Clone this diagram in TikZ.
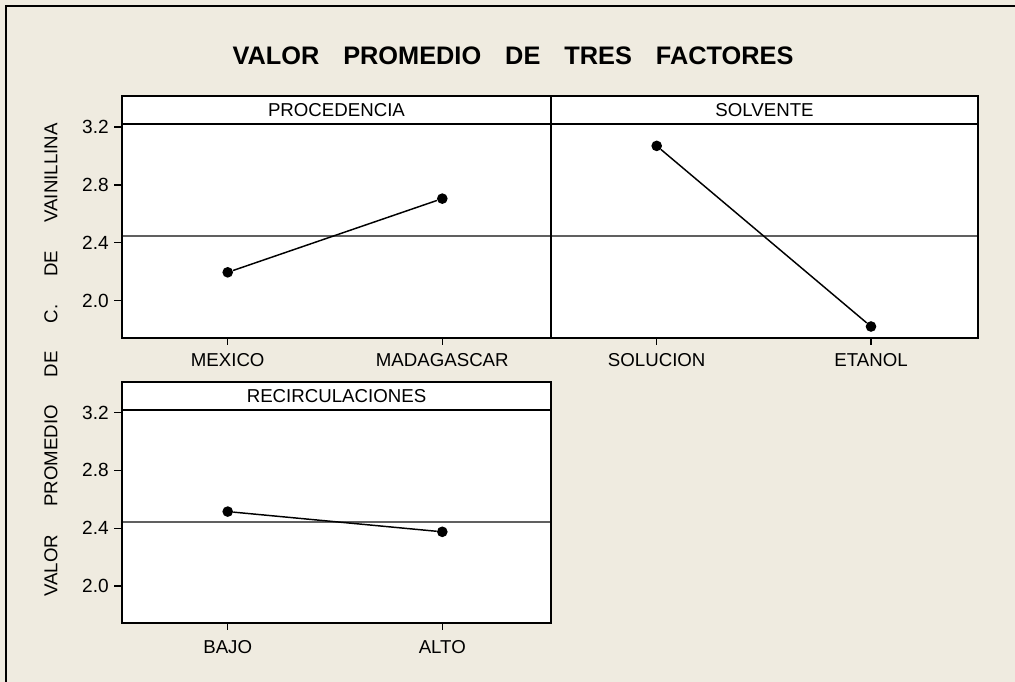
\documentclass[tikz,border=0pt]{standalone}
\usepackage{fontspec}
\setmainfont{Liberation Sans}
\definecolor{paper}{RGB}{239,235,224}
\definecolor{meangray}{RGB}{96,96,96}
\newcommand{\wgap}{\hspace{18pt}}
\newcommand{\lgap}{\hspace{21pt}}
\tikzset{
  panel/.style={draw=black, line width=1.5pt},
  meanline/.style={draw=meangray, line width=1.2pt},
  dataline/.style={draw=black, line width=1.1pt},
  dot/.style={circle, fill=black, inner sep=0pt, minimum size=8pt},
  ticklbl/.style={font=\fontsize{14.3}{16}\selectfont, inner sep=0pt},
  catlbl/.style={font=\fontsize{14}{16}\selectfont, inner sep=0pt},
  striplbl/.style={font=\fontsize{14}{16}\selectfont, inner sep=0pt},
}
\begin{document}
\begin{tikzpicture}[x=0.75pt, y=-0.75pt]
    \useasboundingbox[fill=paper] (0,0) rectangle (1015,682);
    \draw[line width=1.5pt] (6,682) -- (6,6) -- (1015,6);
    \node[font=\fontsize{19}{22}\selectfont\bfseries] (title) at (513,56)
      {VALOR\wgap PROMEDIO\wgap DE\wgap TRES\wgap FACTORES};
    \node[catlbl, rotate=90] (ylabel) at (51,360)
      {VALOR\lgap PROMEDIO\lgap DE\lgap C.\lgap DE\lgap VAINILLINA};
    % top row
    \begin{scope}[shift={(0,589.5)}, y={(0,108.375pt)}]
      \fill[white] (122,1.74) rectangle (978,3.415);
      \draw[meanline] (122,2.445) -- (978,2.445);
      \draw[panel] (122,1.74) rectangle (551,3.22);
      \draw[panel] (122,3.22) rectangle (551,3.415);
      \draw[panel] (551,1.74) rectangle (978,3.22);
      \draw[panel] (551,3.22) rectangle (978,3.415);
      \node[striplbl] (procedencia) at (336.5,3.3175) {PROCEDENCIA};
      \node[striplbl] (solvente) at (764.5,3.3175) {SOLVENTE};
      \foreach \v [count=\i] in {2.0,2.4,2.8,3.2}
        \draw[line width=1pt] (122,\v) -- (114,\v) node[ticklbl, left=3.5pt] (ytickA\i) {\v};
      \foreach \x/\lab [count=\i] in {227.7/MEXICO, 442.3/MADAGASCAR, 656.7/SOLUCION, 871/ETANOL} {
        \draw[line width=1pt] (\x,1.74) -- ++(0pt,-5.25pt);
        \node[catlbl] (catA\i) at (\x,1.588) {\lab};
      }
      \node[dot] (mexico) at (227.7,2.195) {};
      \node[dot] (madagascar) at (442.3,2.705) {};
      \node[dot] (solucion) at (656.7,3.07) {};
      \node[dot] (etanol) at (871,1.82) {};
      \draw[dataline] (mexico) -- (madagascar);
      \draw[dataline] (solucion) -- (etanol);
    \end{scope}
    % bottom row
    \begin{scope}[shift={(0,875)}, y={(0,108.375pt)}]
      \fill[white] (122,1.745) rectangle (551,3.41);
      \draw[meanline] (122,2.445) -- (551,2.445);
      \draw[panel] (122,1.745) rectangle (551,3.22);
      \draw[panel] (122,3.22) rectangle (551,3.41);
      \node[striplbl] (recirc) at (336.5,3.315) {RECIRCULACIONES};
      \foreach \v [count=\i] in {2.0,2.4,2.8,3.2}
        \draw[line width=1pt] (122,\v) -- (114,\v) node[ticklbl, left=3.5pt] (ytickC\i) {\v};
      \foreach \x/\lab [count=\i] in {227.7/BAJO, 442.3/ALTO} {
        \draw[line width=1pt] (\x,1.745) -- ++(0pt,-5.25pt);
        \node[catlbl] (catC\i) at (\x,1.58) {\lab};
      }
      \node[dot] (bajo) at (227.7,2.515) {};
      \node[dot] (alto) at (442.3,2.375) {};
      \draw[dataline] (bajo) -- (alto);
    \end{scope}
\end{tikzpicture}
\end{document}
